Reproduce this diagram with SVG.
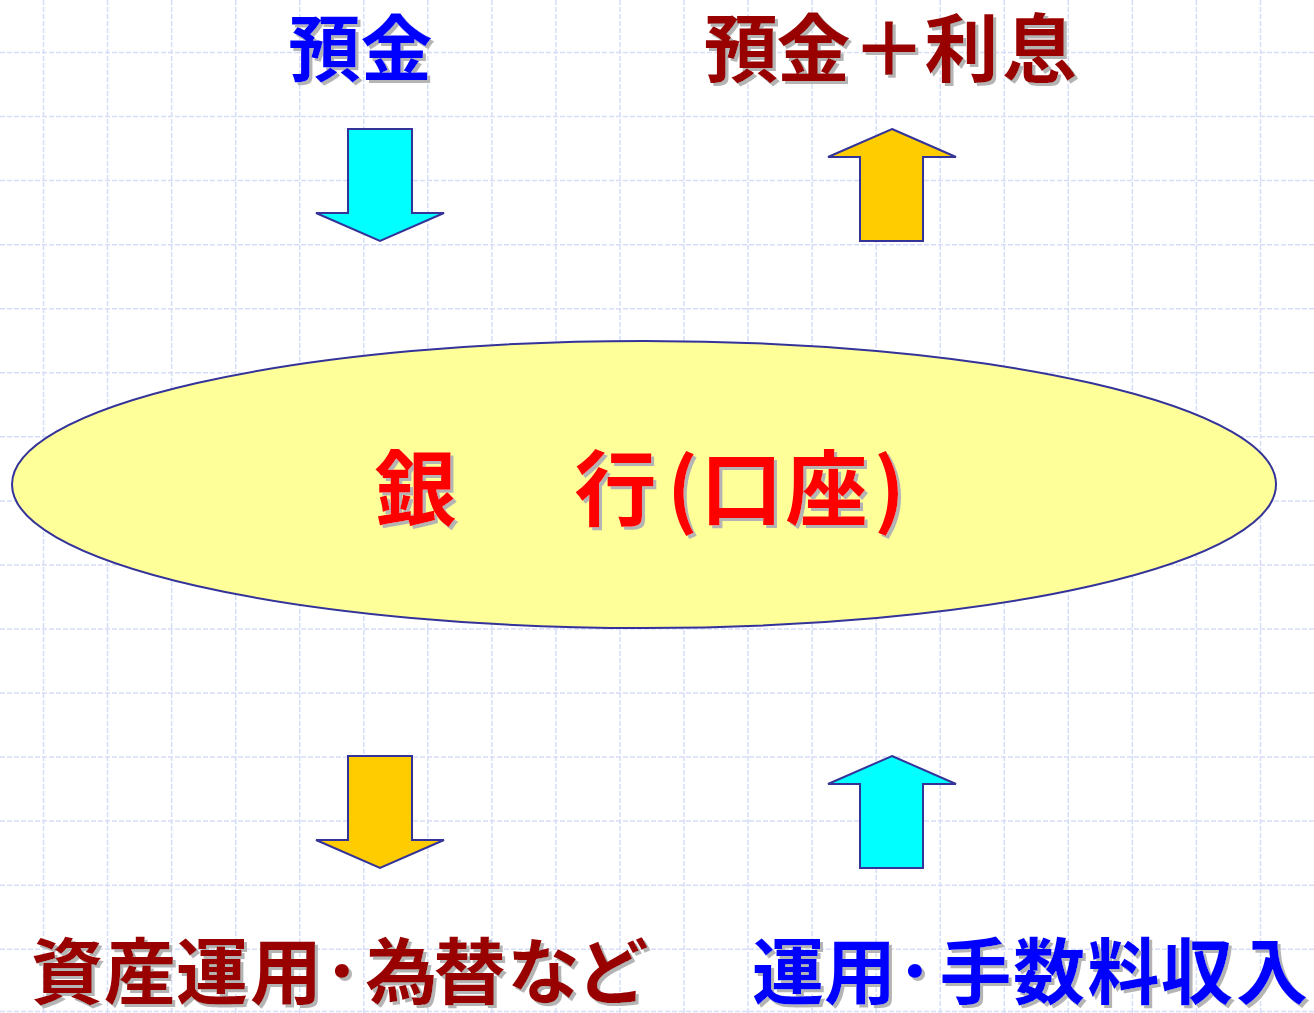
<svg xmlns="http://www.w3.org/2000/svg" width="1314" height="1013" viewBox="0 0 1314 1013">
<defs>
<style>
.grid{fill:none;stroke:#d6ddf7;stroke-width:1.5;stroke-dasharray:5 2}
.t{font-family:"Noto Sans CJK JP","Noto Sans CJK SC",sans-serif;font-weight:700;text-anchor:middle;filter:url(#sh)}
.blue{fill:#0000ff}
.dred{fill:#990000}
.red{fill:#ff0000}
.arrow{stroke:#333399;stroke-width:2;stroke-linejoin:miter}
.cyan{fill:#00ffff}
.gold{fill:#ffcc00}
</style>
<filter id="sh" filterUnits="userSpaceOnUse" x="0" y="0" width="1314" height="1013">
<feOffset in="SourceAlpha" dx="3" dy="3" result="o"/>
<feFlood flood-color="#b4b4b4"/>
<feComposite in2="o" operator="in" result="s"/>
<feMerge><feMergeNode in="s"/><feMergeNode in="SourceGraphic"/></feMerge>
</filter>
</defs>
<rect width="1314" height="1013" fill="#ffffff"/>
<g id="grid" class="grid">
<path d="M43.5 0V1013M107.5 0V1013M171.6 0V1013M235.7 0V1013M299.7 0V1013M363.8 0V1013M427.8 0V1013M491.9 0V1013M555.9 0V1013M620 0V1013M684 0V1013M748 0V1013M812.1 0V1013M876.2 0V1013M940.2 0V1013M1004.3 0V1013M1068.3 0V1013M1132.4 0V1013M1196.4 0V1013M1260.5 0V1013"/>
<path d="M0 52.5H1314M0 116.5H1314M0 180.6H1314M0 244.7H1314M0 308.7H1314M0 372.8H1314M0 436.8H1314M0 500.9H1314M0 564.9H1314M0 629H1314M0 693H1314M0 757H1314M0 821.1H1314M0 885.2H1314M0 949.2H1314M0 1011.5H1314"/>
</g>
<g id="bank">
<ellipse cx="644" cy="484.5" rx="632" ry="143.5" fill="#ffff99" stroke="#333399" stroke-width="2"/>
<text class="t red" font-size="82" y="519" x="415.5 615.5 682.5 741.5 826.5 889.5">銀行(口座)</text>
</g>
<g id="deposit">
<text class="t blue" font-size="72" y="75" x="324.5 396.5">預金</text>
</g>
<g id="deposit-interest">
<text class="t dred" font-size="74" y="76" x="741 813.5 889 961.5 1039.5">預金＋利息</text>
</g>
<g id="investment">
<text class="t dred" font-size="72" y="998" x="67 140 212 286 342 401.5 469.5 543.5 612.5">資産運用･為替など</text>
</g>
<g id="income">
<text class="t blue" font-size="72" y="998" x="788 860 915 975.5 1049 1123.5 1197 1272">運用･手数料収入</text>
</g>
<g id="connectors">
<polygon class="arrow cyan" points="348,129 412,129 412,213 444,213 380,241 316,213 348,213"/>
<polygon class="arrow gold" points="892,129 956,157 923,157 923,241 860,241 860,157 828,157"/>
<polygon class="arrow gold" points="348,756 412,756 412,840 444,840 380,868 316,840 348,840"/>
<polygon class="arrow cyan" points="892,756 956,784 923,784 923,868 860,868 860,784 828,784"/>
</g>
</svg>
